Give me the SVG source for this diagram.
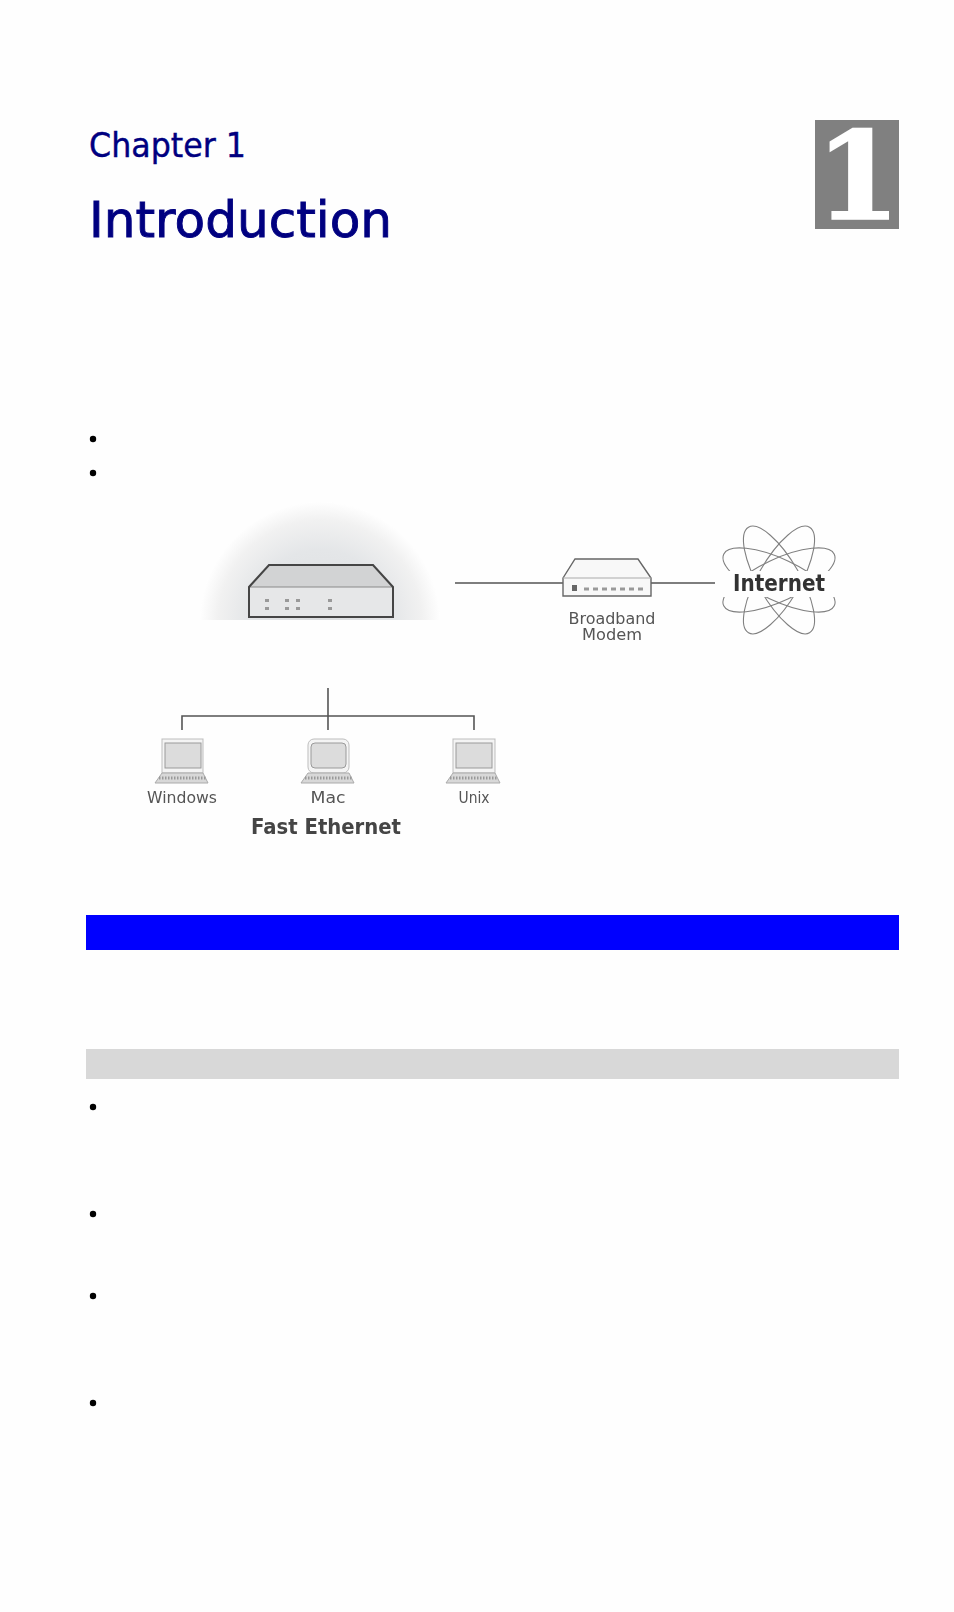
<svg xmlns="http://www.w3.org/2000/svg" width="954" height="1612" viewBox="0 0 954 1612">
<style>
.h{font-family:"DejaVu Sans","Noto Sans",sans-serif;fill:#000080;stroke:#000080}
.g{font-family:"DejaVu Sans","Liberation Sans",sans-serif;fill:#555;text-anchor:middle}
.b{fill:#000}
.c{fill:none;stroke:#555;stroke-width:1.6}
.o{fill:none;stroke:#808080;stroke-width:1.1}
.scr{fill:#f4f4f4;stroke:#bdbdbd;stroke-width:1}
.in{fill:#dcdcdc;stroke:#9a9a9a;stroke-width:1}
.kb{fill:#d8d8d8;stroke:#aaa;stroke-width:1}
.keys{fill:none;stroke:#999;stroke-width:3;stroke-dasharray:1.5 1.5}
.led{fill:#999}
</style>
<defs>
<radialGradient id="glow" cx="320" cy="622" r="120" gradientUnits="userSpaceOnUse">
<stop offset="0" stop-color="#dcdee0"/><stop offset=".6" stop-color="#e4e6e8"/><stop offset=".85" stop-color="#f1f1f1"/><stop offset="1" stop-color="#fefefe"/>
</radialGradient>
<clipPath id="glowClip"><rect x="190" y="490" width="270" height="130"/></clipPath>
<clipPath id="netClip"><path d="M710 515H850V571H710ZM710 597H850V645H710Z"/></clipPath>
<filter id="soft" x="-5%" y="-5%" width="110%" height="110%"><feGaussianBlur stdDeviation="0.55"/></filter>
</defs>
<rect width="954" height="1612" fill="#fefefe"/>
<g id="title">
<text class="h" x="89" y="157" font-size="33" stroke-width="0.4" textLength="157" lengthAdjust="spacingAndGlyphs">Chapter 1</text>
<text class="h" x="89" y="237" font-size="50" stroke-width="0.9" textLength="303" lengthAdjust="spacingAndGlyphs">Introduction</text>
</g>
<g id="chapter-number">
<rect x="815" y="120" width="84" height="109" fill="#808080"/>
<text x="858" y="219" font-family="DejaVu Serif,serif" font-weight="700" font-size="122" fill="#fff" stroke="#fff" stroke-width="1.5" text-anchor="middle">1</text>
</g>
<g id="bullets-top" class="b"><circle cx="93" cy="439" r="3.2"/><circle cx="93" cy="473" r="3.2"/></g>
<g filter="url(#soft)">
<g id="connectors">
<path class="c" d="M455 583H563M651 583H715"/>
<path class="c" d="M328 688V730M182 730V716H474V730"/>
</g>
<g id="router">
<circle cx="320" cy="622" r="120" fill="url(#glow)" clip-path="url(#glowClip)"/>
<path d="M249 587H393V617H249Z" fill="#e6e7e8"/>
<path d="M249 587L269 565H373L393 587Z" fill="#d2d3d4"/>
<path d="M249 587H393" stroke="#8a8a8a" stroke-width="1" fill="none"/>
<path d="M249 617V587L269 565H373L393 587V617Z" fill="none" stroke="#444" stroke-width="2"/>
<g class="led"><rect x="265" y="599" width="4" height="3"/><rect x="285" y="599" width="4" height="3"/><rect x="296" y="599" width="4" height="3"/><rect x="328" y="599" width="4" height="3"/><rect x="265" y="607" width="4" height="3"/><rect x="285" y="607" width="4" height="3"/><rect x="296" y="607" width="4" height="3"/><rect x="328" y="607" width="4" height="3"/></g>
</g>
<g id="modem">
<path d="M563 578L575 559H638L651 578V596H563Z" fill="#f8f8f8" stroke="#666" stroke-width="1.4"/>
<path d="M563 578H651" stroke="#aaa" fill="none"/>
<rect x="572" y="585" width="5" height="6" fill="#666"/>
<path d="M584 589H646" stroke="#999" stroke-width="3" stroke-dasharray="5 4" fill="none"/>
<text class="g" x="612" y="624" font-size="15" textLength="87" lengthAdjust="spacingAndGlyphs">Broadband</text>
<text class="g" x="612" y="640" font-size="15" textLength="60" lengthAdjust="spacingAndGlyphs">Modem</text>
</g>
<g id="internet">
<g clip-path="url(#netClip)">
<ellipse class="o" cx="779" cy="580" rx="61" ry="21" transform="rotate(25 779 580)"/>
<ellipse class="o" cx="779" cy="580" rx="61" ry="21" transform="rotate(-25 779 580)"/>
<ellipse class="o" cx="779" cy="580" rx="61" ry="21" transform="rotate(60 779 580)"/>
<ellipse class="o" cx="779" cy="580" rx="61" ry="21" transform="rotate(-60 779 580)"/>
</g>
<text x="779" y="591" font-family="DejaVu Sans,Liberation Sans,sans-serif" font-weight="700" font-size="23" fill="#333" text-anchor="middle" textLength="92" lengthAdjust="spacingAndGlyphs">Internet</text>
</g>
<g id="windows">
<rect class="scr" x="162" y="739" width="41" height="34"/><rect class="in" x="165" y="743" width="36" height="25"/>
<path class="kb" d="M162 773H203L208 783H155Z"/><path class="keys" d="M159 778H206"/>
<text class="g" x="182" y="803" font-size="15" textLength="70" lengthAdjust="spacingAndGlyphs">Windows</text>
</g>
<g id="mac">
<rect class="scr" x="308" y="739" width="41" height="34" rx="6"/><rect class="in" x="311" y="743" width="35" height="25" rx="4"/>
<path class="kb" d="M308 773H349L354 783H301Z"/><path class="keys" d="M305 778H352"/>
<text class="g" x="328" y="803" font-size="15" textLength="35" lengthAdjust="spacingAndGlyphs">Mac</text>
</g>
<g id="unix">
<rect class="scr" x="453" y="739" width="42" height="34"/><rect class="in" x="456" y="743" width="36" height="25"/>
<path class="kb" d="M453 773H495L500 783H446Z"/><path class="keys" d="M450 778H498"/>
<text class="g" x="474" y="803" font-size="15" textLength="31" lengthAdjust="spacingAndGlyphs">Unix</text>
</g>
<text id="fast-ethernet" class="g" x="326" y="834" font-size="22" font-weight="700" textLength="150" lengthAdjust="spacingAndGlyphs" style="fill:#444">Fast Ethernet</text>
</g>
<g id="bars">
<rect x="86" y="915" width="813" height="35" fill="#0000ff"/>
<rect x="86" y="1049" width="813" height="30" fill="#d8d8d8"/>
</g>
<g id="bullets-bottom" class="b"><circle cx="93" cy="1107" r="3.2"/><circle cx="93" cy="1214" r="3.2"/><circle cx="93" cy="1296" r="3.2"/><circle cx="93" cy="1403" r="3.2"/></g>
</svg>
